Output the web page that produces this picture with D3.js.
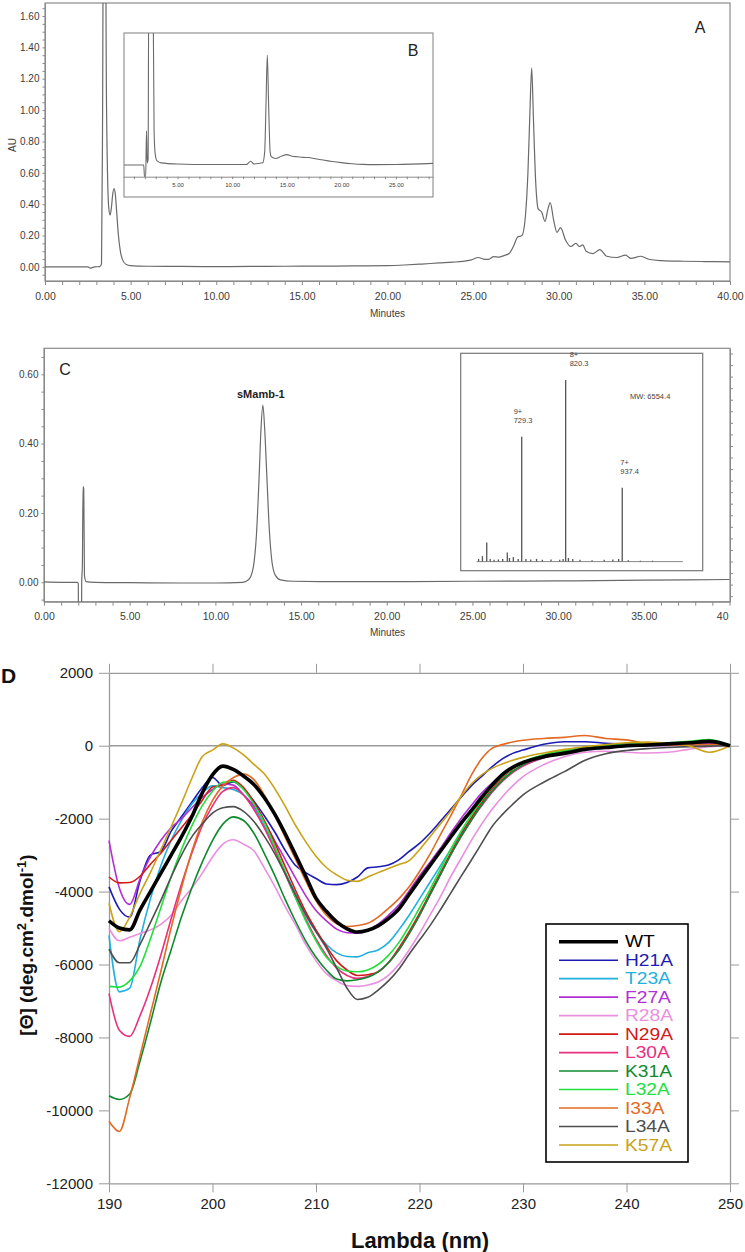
<!DOCTYPE html>
<html><head><meta charset="utf-8">
<script src="https://cdn.jsdelivr.net/npm/d3@7/dist/d3.min.js"></script>
<style>html,body{margin:0;padding:0;background:#fff}svg{display:block}</style>
</head><body>
<svg id="fig" width="745" height="1252" xmlns="http://www.w3.org/2000/svg"></svg>
<script>
// ================= DATA =================
// Panel A : crude RP-HPLC chromatogram (minutes, AU)
const aTime = [0,1.5,2.5,2.65,2.75,2.9,3.2,3.3,3.36,3.42,3.52,3.58,3.65,3.72,3.8,3.88,3.95,4.03,4.1,4.18,4.28,4.4,4.55,4.75,5.0,5.5,6,8,10,12,14,16,18,20,21,22,23,23.8,24.4,24.9,25.3,25.6,25.9,26.2,26.5,26.8,27.1,27.35,27.6,27.85,28.05,28.2,28.32,28.42,28.52,28.65,28.8,29.0,29.2,29.35,29.5,29.7,29.9,30.1,30.4,30.7,31.0,31.2,31.4,31.6,32.0,32.4,32.8,33.4,33.9,34.2,34.8,35.3,36.0,37.3,38.5,40];
const aAU = [0.0,0.0,0.0,-0.008,-0.005,0.0,0.002,0.02,0.9,2.5,2.5,1.2,0.6,0.38,0.33,0.38,0.46,0.50,0.47,0.36,0.21,0.1,0.04,0.015,0.008,0.005,0.004,0.003,0.002,0.003,0.004,0.005,0.006,0.008,0.012,0.018,0.025,0.03,0.035,0.045,0.06,0.05,0.048,0.065,0.062,0.072,0.085,0.13,0.19,0.20,0.32,0.6,1.0,1.27,0.95,0.55,0.37,0.35,0.29,0.36,0.41,0.30,0.22,0.25,0.17,0.13,0.15,0.13,0.14,0.10,0.085,0.11,0.068,0.06,0.075,0.054,0.068,0.047,0.04,0.036,0.034,0.032];
const aYTicks = [0,0.2,0.4,0.6,0.8,1.0,1.2,1.4,1.6];
const aXTicks = [0,5,10,15,20,25,30,35,40];

// Inset B : purified peptide chromatogram (minutes, relative signal)
const bTime = [0,1.9,1.97,2.08,2.15,2.22,2.3,2.36,2.75,2.85,2.95,3.1,3.5,5,8,11.3,11.7,12.0,12.8,12.98,13.1,13.22,13.34,13.48,13.6,14.0,14.5,15.0,15.5,16.0,16.5,17.0,17.5,18.0,19.0,20.0,21.0,22.0,23.0,25.0,28.4];
const bSignal = [0,0,-0.11,-0.11,0.31,0.02,0.05,1.6,1.6,0.3,0.1,0.04,0.02,0.01,0.005,0.005,0.035,0.01,0.02,0.12,0.55,1.0,0.55,0.12,0.075,0.06,0.08,0.095,0.08,0.075,0.07,0.068,0.06,0.05,0.035,0.022,0.012,0.006,0.004,0.005,0.015];
const bXTicks = [5,10,15,20,25];

// Panel C : analytical HPLC of sMamb-1 (minutes, AU)
const cTime = [0,1.0,1.95,2.0,2.02,2.18,2.2,2.24,2.28,2.32,2.36,2.45,3,5,8,10,11.6,11.95,12.2,12.4,12.55,12.66,12.77,12.88,13.0,13.15,13.3,13.5,13.8,14.5,17,20,25,30,35,40];
const cAU = [0.001,0.0,0.0,-0.004,-0.2,-0.2,0.0,0.05,0.276,0.27,0.02,0.002,0.0,-0.001,-0.002,-0.002,0.0,0.008,0.04,0.14,0.3,0.44,0.511,0.44,0.31,0.15,0.06,0.02,0.007,0.003,0.002,0.002,0.003,0.004,0.006,0.008];
const cYTicks = [0,0.2,0.4,0.6];
const cXTicks = [0,5,10,15,20,25,30,35,40];
const cPeakName = "sMamb-1";

// Mass-spectrum inset (m/z, relative intensity %)
const msMz = [640,648,656.9,664,672,681,690,699.5,704,712,722,729.3,738,748,760,772,790,808,815,820.3,826,835,850,875,900,918,930,937.4,950,975,1000];
const msInt = [1.5,3,10.5,1.5,1.0,1.2,1.5,5,2,2.5,1.5,68.8,1.5,1.2,1.5,1.0,1.2,1.0,1.5,100,2,1.5,1.0,0.8,1.0,1.2,1.5,40.7,0.8,0.5,0.5];
const msChargeLabels = ["9+","8+","7+"];
const msPeakMz = [729.3,820.3,937.4];
const msPeakInt = [68.8,100,40.7];
const msMassLabels = ["729.3","820.3","937.4"];
const msMW = "MW: 6554.4";

// Panel D : CD spectra (nm, deg.cm2.dmol-1)
const lambda = [190,191,192,193,194,195,196,197,198,199,200,201,202,203,204,205,206,207,208,209,210,211,212,213,214,215,216,217,218,219,220,221,222,223,224,225,226,227,228,229,230,232,234,236,238,240,242,244,246,248,250];
const cdWT = [-4800,-5000,-5050,-4500,-4000,-3500,-3000,-2500,-1950,-1300, -800,-560,-650,-830,-1060,-1420,-1870,-2400,-2980,-3570, -4180,-4540,-4830,-5020,-5110,-5060,-4940,-4740,-4480,-4080, -3680,-3290,-2900,-2510,-2130,-1780,-1420,-1080,-790,-590, -460,-300,-210,-100,-50,0,20,50,80,120,0];
const cdH21A = [-3870,-4480,-4700,-3700,-3000,-2900,-2350,-1950,-1550,-1150, -870,-1090,-990,-1180,-1520,-1920,-2360,-2860,-3280,-3480, -3640,-3790,-3810,-3750,-3600,-3350,-3320,-3270,-3130,-2900, -2680,-2400,-2080,-1750,-1420,-1100,-840,-580,-360,-210, -120,40,110,110,70,50,40,30,40,50,0];
const cdT23A = [-5200,-6750,-6650,-5300,-4200,-3300,-2600,-2050,-1600,-1300, -1100,-1150,-1200,-1350,-1700,-2200,-2800,-3450,-4050,-4650, -5100,-5450,-5680,-5780,-5790,-5680,-5600,-5400,-5050,-4650, -4200,-3750,-3300,-2850,-2400,-2000,-1600,-1250,-950,-720, -550,-330,-200,-110,-60,-20,0,20,40,80,0];
const cdF27A = [-2600,-3900,-4350,-3650,-3050,-2600,-2250,-2000,-1700,-1420, -1200,-1050,-1080,-1350,-1650,-2080,-2600,-3100,-3620,-4110, -4520,-4800,-5030,-5130,-5140,-5060,-4890,-4650,-4370,-3980, -3570,-3200,-2820,-2400,-2000,-1640,-1300,-1030,-780,-590, -450,-270,-170,-90,-20,0,0,10,30,60,0];
const cdR28A = [-5000,-5350,-5250,-5150,-5050,-4900,-4650,-4250,-3900,-3500, -3050,-2700,-2580,-2700,-2880,-3350,-3850,-4400,-4900,-5450, -5900,-6250,-6450,-6580,-6600,-6560,-6480,-6300,-6000,-5600, -5150,-4650,-4150,-3600,-3100,-2600,-2150,-1750,-1400,-1100, -850,-520,-300,-180,-150,-180,-200,-180,-100,-30,0];
const cdN29A = [-3600,-3760,-3750,-3580,-3250,-2950,-2600,-2250,-1900,-1500, -1130,-1080,-950,-1150,-1550,-2050,-2650,-3300,-3950,-4550, -5050,-5500,-5900,-6150,-6300,-6280,-6200,-5950,-5550,-5100, -4600,-4050,-3500,-2950,-2450,-1980,-1550,-1180,-880,-640, -470,-260,-130,-40,0,30,50,60,80,120,0];
const cdL30A = [-6800,-7800,-7970,-7400,-6650,-5750,-4750,-3800,-2950,-2200, -1650,-1250,-1150,-1350,-1750,-2250,-2850,-3500,-4150,-4750, -5300,-5750,-6100,-6300,-6380,-6330,-6200,-5950,-5600,-5150, -4650,-4100,-3550,-3000,-2500,-2050,-1650,-1280,-980,-740, -560,-330,-190,-90,-30,0,20,40,60,90,0];
const cdK31A = [-9600,-9700,-9550,-8650,-7600,-6500,-5600,-4700,-3900,-3200, -2600,-2150,-1950,-2050,-2400,-2950,-3550,-4200,-4800,-5350, -5800,-6150,-6400,-6450,-6420,-6350,-6200,-5950,-5600,-5150, -4650,-4100,-3550,-3000,-2500,-2050,-1620,-1250,-950,-700, -520,-300,-160,-60,0,30,50,70,100,130,0];
const cdL32A = [-6600,-6620,-6450,-6050,-5300,-4450,-3600,-2850,-2200,-1650, -1250,-1000,-980,-1200,-1600,-2100,-2750,-3450,-4150,-4800, -5350,-5800,-6050,-6180,-6200,-6150,-6000,-5750,-5400,-4950, -4450,-3950,-3400,-2850,-2350,-1900,-1500,-1130,-850,-620, -450,-250,-120,-40,0,40,60,80,120,170,0];
const cdI33A = [-10300,-10580,-9650,-8500,-7350,-6200,-5000,-3900,-2900,-2100, -1500,-1100,-880,-780,-930,-1350,-1900,-2500,-3100,-3700, -4250,-4650,-4880,-4960,-4930,-4870,-4700,-4460,-4200,-3870, -3450,-2980,-2450,-1930,-1380,-810,-360,-73,30,100, 150,200,230,280,200,160,60,20,20,30,0];
const cdL34A = [-5580,-5950,-5950,-5450,-4850,-4250,-3600,-3000,-2500,-2150, -1850,-1700,-1670,-1800,-2080,-2480,-2950,-3500,-4080,-4620, -5100,-5550,-6100,-6650,-6960,-6900,-6700,-6450,-6130,-5720, -5330,-4940,-4510,-4050,-3590,-3140,-2680,-2220,-1890,-1610, -1350,-1000,-710,-400,-220,-130,-80,-50,-25,-10,0];
const cdK57A = [-4320,-5100,-4700,-4050,-3480,-2860,-2230,-1580,-900,-300, -120,50,-60,-250,-510,-770,-1170,-1650,-2170,-2630, -3030,-3340,-3540,-3690,-3720,-3600,-3480,-3370,-3260,-3150, -2850,-2500,-2150,-1800,-1400,-1050,-800,-620,-500,-400, -320,-200,-100,-30,30,80,100,60,0,-180,0];
const cdNames = ["WT","H21A","T23A","F27A","R28A","N29A","L30A","K31A","L32A","I33A","L34A","K57A"];
const cdColors = ["#000000","#1c1cb4","#1fb0de","#b22ed6","#ea8fe0","#d41818","#e8307e","#0e8a2e","#22e03c","#e26a22","#4e4e4e","#c9a216"];
const cdYTicks = [2000,0,-2000,-4000,-6000,-8000,-10000,-12000];
const cdXTicks = [190,200,210,220,230,240,250];

// ================= DRAWING =================
const svg = d3.select("#fig");
const FONT = "'Liberation Sans', Arial, Helvetica, sans-serif";
const AXC = "#8a8a8a", TXC = "#3c3c3c", TRC = "#6a6a6a";
const fmt2 = d3.format(".2f");
const defs = svg.append("defs");
function clip(id, x, y, w, h){ defs.append("clipPath").attr("id", id).append("rect").attr("x", x).attr("y", y).attr("width", w).attr("height", h); return "url(#"+id+")"; }
function styleAxis(g, size, col, tcol){
  g.selectAll("path").attr("stroke", col).attr("stroke-width", 1);
  g.selectAll("line").attr("stroke", col).attr("stroke-width", 1);
  g.selectAll("text").attr("font-family", FONT).attr("font-size", size).attr("fill", tcol || TXC);
}

// ---------- Panel A ----------
const ax = d3.scaleLinear().domain([0,40]).range([45,730]);
const ay = d3.scaleLinear().domain([-0.09,1.683]).range([281,3]);
const gA = svg.append("g");
gA.append("rect").attr("x",45).attr("y",3).attr("width",685).attr("height",278).attr("fill","none").attr("stroke",AXC).attr("stroke-width",1.2);
styleAxis(gA.append("g").attr("transform","translate(45,0)").call(d3.axisLeft(ay).tickValues(d3.range(-0.05,1.67,0.05)).tickSize(2.5).tickFormat("").tickSizeOuter(0)),9,AXC);
styleAxis(gA.append("g").attr("transform","translate(45,0)").call(d3.axisLeft(ay).tickValues(aYTicks).tickFormat(fmt2).tickSize(4).tickPadding(1.5).tickSizeOuter(0)),10);
styleAxis(gA.append("g").attr("transform","translate(0,281)").call(d3.axisBottom(ax).tickValues(d3.range(0,41,1)).tickSize(4).tickFormat("").tickSizeOuter(0)),9,AXC);
styleAxis(gA.append("g").attr("transform","translate(0,281)").call(d3.axisBottom(ax).tickValues(aXTicks).tickFormat(fmt2).tickSize(5).tickPadding(7).tickSizeOuter(0)),10.5);
gA.append("text").attr("x",387.5).attr("y",317).attr("text-anchor","middle").attr("font-family",FONT).attr("font-size",10).attr("fill",TXC).text("Minutes");
gA.append("text").attr("transform","translate(16,145) rotate(-90)").attr("text-anchor","middle").attr("font-family",FONT).attr("font-size",10).attr("fill",TXC).text("AU");
gA.append("path").attr("clip-path",clip("clipA",45,3,685,278))
  .attr("d", d3.line().x((d,i)=>ax(aTime[i])).y(d=>ay(d)).curve(d3.curveMonotoneX)(aAU))
  .attr("fill","none").attr("stroke",TRC).attr("stroke-width",1.2);
gA.append("text").attr("x",700).attr("y",33).attr("text-anchor","middle").attr("font-family",FONT).attr("font-size",16).attr("fill","#222").text("A");

// Inset B
const bx = d3.scaleLinear().domain([0,28.4]).range([123,433]);
const by = d3.scaleLinear().domain([-0.106,1.2]).range([176.7,33]);
const gB = svg.append("g");
gB.append("rect").attr("x",124).attr("y",33).attr("width",309).attr("height",164).attr("fill","#fff").attr("stroke",AXC).attr("stroke-width",1.1);
styleAxis(gB.append("g").attr("transform","translate(0,176.7)").call(d3.axisBottom(bx).tickValues(d3.range(1,29,1)).tickSize(2.5).tickFormat("").tickSizeOuter(0)),6,AXC);
styleAxis(gB.append("g").attr("transform","translate(0,176.7)").call(d3.axisBottom(bx).tickValues(bXTicks).tickFormat(fmt2).tickSize(3).tickPadding(3).tickSizeOuter(0)),6);
gB.append("path").attr("clip-path",clip("clipB",124,33,309,143.7))
  .attr("d", d3.line().x((d,i)=>bx(bTime[i])).y(d=>by(d)).curve(d3.curveMonotoneX)(bSignal))
  .attr("fill","none").attr("stroke",TRC).attr("stroke-width",1.1);
gB.append("text").attr("x",413).attr("y",56).attr("text-anchor","middle").attr("font-family",FONT).attr("font-size",16).attr("fill","#222").text("B");

// ---------- Panel C ----------
const cx = d3.scaleLinear().domain([0,40]).range([44,729.5]);
const cy = d3.scaleLinear().domain([-0.056,0.675]).range([601.7,348.3]);
const gC = svg.append("g");
gC.append("rect").attr("x",44).attr("y",348.3).attr("width",686).attr("height",253.4).attr("fill","none").attr("stroke",AXC).attr("stroke-width",1.2);
styleAxis(gC.append("g").attr("transform","translate(44,0)").call(d3.axisLeft(cy).tickValues(d3.range(-0.05,0.67,0.05)).tickSize(2.5).tickFormat("").tickSizeOuter(0)),9,AXC);
styleAxis(gC.append("g").attr("transform","translate(44,0)").call(d3.axisLeft(cy).tickValues(cYTicks).tickFormat(fmt2).tickSize(4).tickPadding(1.5).tickSizeOuter(0)),10);
styleAxis(gC.append("g").attr("transform","translate(730,0)").call(d3.axisRight(cy).tickValues(d3.range(-0.04,0.67,0.2/6)).tickSize(3).tickFormat("").tickSizeOuter(0)),9,AXC);
styleAxis(gC.append("g").attr("transform","translate(0,601.7)").call(d3.axisBottom(cx).tickValues(d3.range(0,41,1)).tickSize(4).tickFormat("").tickSizeOuter(0)),9,AXC);
const cXAx = gC.append("g").attr("transform","translate(0,601.7)").attr("clip-path",clip("clipCx",0,-5,729,40))
  .call(d3.axisBottom(cx).tickValues(cXTicks).tickFormat(fmt2).tickSize(5).tickPadding(6).tickSizeOuter(0));
styleAxis(cXAx,10.5);
gC.append("text").attr("x",387.5).attr("y",636).attr("text-anchor","middle").attr("font-family",FONT).attr("font-size",10).attr("fill",TXC).text("Minutes");
gC.append("path").attr("clip-path",clip("clipC",44,348.3,686,253.4))
  .attr("d", d3.line().x((d,i)=>cx(cTime[i])).y(d=>cy(d)).curve(d3.curveMonotoneX)(cAU))
  .attr("fill","none").attr("stroke",TRC).attr("stroke-width",1.2);
gC.append("text").attr("x",65).attr("y",375).attr("text-anchor","middle").attr("font-family",FONT).attr("font-size",16).attr("fill","#222").text("C");
gC.append("text").attr("x",cx(12.77)-2).attr("y",cy(0.511)-7).attr("text-anchor","middle").attr("font-family",FONT).attr("font-weight","bold").attr("font-size",11).attr("fill","#222").text(cPeakName);

// MS inset
const msx = d3.scaleLinear().domain([603,1104]).range([460.7,702.7]);
const msy = d3.scaleLinear().domain([-5,114.7]).range([570.7,353.3]);
const gM = svg.append("g");
gM.append("rect").attr("x",460.7).attr("y",353.3).attr("width",242).attr("height",217.4).attr("fill","#fff").attr("stroke","#777").attr("stroke-width",1.2);
gM.append("line").attr("x1",msx(636)).attr("x2",msx(1063)).attr("y1",msy(0)).attr("y2",msy(0)).attr("stroke","#888").attr("stroke-width",1);
gM.selectAll("line.stick").data(msInt).enter().append("line").attr("class","stick")
  .attr("x1",(d,i)=>msx(msMz[i])).attr("x2",(d,i)=>msx(msMz[i]))
  .attr("y1",msy(0)).attr("y2",d=>msy(d)).attr("stroke","#555").attr("stroke-width",1.3);
const msDx = [-8,4,-2];
msChargeLabels.forEach((t,i)=>{
  const x0 = msx(msPeakMz[i]) + msDx[i], yTop = msy(msPeakInt[i]);
  gM.append("text").attr("x",x0).attr("y",yTop-23).attr("font-family",FONT).attr("font-size",7.5).attr("fill","#444").text(t);
  gM.append("text").attr("x",x0).attr("y",yTop-14).attr("font-family",FONT).attr("font-size",7.5).attr("fill","#444").text(msMassLabels[i]);
});
gM.append("text").attr("x",630).attr("y",399).attr("font-family",FONT).attr("font-size",7.5).attr("fill","#444").text(msMW);

// ---------- Panel D ----------
const dx = d3.scaleLinear().domain([190,250]).range([109,730]);
const dy = d3.scaleLinear().domain([-12000,2000]).range([1183.3,672.8]);
const gD = svg.append("g");
const DAX = "#9a9a9a";
const plainNum = d => String(d);
styleAxis(gD.append("g").attr("transform","translate(109,0)").call(d3.axisLeft(dy).tickValues(cdYTicks).tickFormat(plainNum).tickSize(10).tickPadding(6).tickSizeOuter(0)),15,DAX,"#222");
styleAxis(gD.append("g").attr("transform","translate(730,0)").call(d3.axisRight(dy).tickValues(cdYTicks).tickSize(9).tickFormat("").tickSizeOuter(0)),15,DAX);
styleAxis(gD.append("g").attr("transform","translate(0,1183.3)").call(d3.axisBottom(dx).tickValues(cdXTicks).tickFormat(plainNum).tickSize(9).tickPadding(6).tickSizeOuter(0)),15,DAX,"#222");
styleAxis(gD.append("g").attr("transform","translate(0,672.8)").call(d3.axisTop(dx).tickValues(cdXTicks).tickSize(9).tickFormat("").tickSizeOuter(0)),15,DAX);
gD.selectAll("path.domain").attr("stroke-width",1.3);
gD.append("line").attr("x1",dx(190)).attr("x2",dx(250)).attr("y1",dy(0)).attr("y2",dy(0)).attr("stroke",DAX).attr("stroke-width",1.3);

const cdSeries = [cdWT,cdH21A,cdT23A,cdF27A,cdR28A,cdN29A,cdL30A,cdK31A,cdL32A,cdI33A,cdL34A,cdK57A];
const cdLine = d3.line().x((d,i)=>dx(lambda[i])).y(d=>dy(d)).curve(d3.curveMonotoneX);
const drawOrder = [1,2,3,4,5,6,7,8,9,10,11,0];
drawOrder.forEach(k=>{
  gD.append("path").attr("d",cdLine(cdSeries[k])).attr("fill","none")
    .attr("stroke",cdColors[k]).attr("stroke-width",k===0?3.6:1.6).attr("stroke-linejoin","round");
});

// legend
const lg = gD.append("g");
lg.append("rect").attr("x",546).attr("y",924).attr("width",142).attr("height",238).attr("fill","#fff").attr("stroke","#000").attr("stroke-width",1.6);
cdNames.forEach((n,i)=>{
  const yy = 941.7 + i*18.48;
  lg.append("line").attr("x1",559).attr("x2",618).attr("y1",yy).attr("y2",yy).attr("stroke",cdColors[i]).attr("stroke-width",i===0?3.6:1.6);
  lg.append("text").attr("transform","translate(625,"+yy+") scale(1.2,1)").attr("dy","0.36em").attr("font-family",FONT).attr("font-size",16).attr("fill",cdColors[i]).text(n);
});

// labels
gD.append("text").attr("x",1).attr("y",683).attr("font-family",FONT).attr("font-weight","bold").attr("font-size",21).attr("fill","#111").text("D");
gD.append("text").attr("x",420).attr("y",1248).attr("text-anchor","middle").attr("font-family",FONT).attr("font-weight","bold").attr("font-size",22).attr("fill","#111").text("Lambda (nm)");
const yl = gD.append("text").attr("transform","translate(33,945) rotate(-90)").attr("text-anchor","middle").attr("font-family",FONT).attr("font-weight","bold").attr("font-size",19).attr("fill","#111");
yl.append("tspan").text("[Θ] (deg.cm");
yl.append("tspan").attr("font-size",13).attr("baseline-shift","super").text("2");
yl.append("tspan").text(".dmol");
yl.append("tspan").attr("font-size",13).attr("baseline-shift","super").text("-1");
yl.append("tspan").text(")");
</script>
</body></html>
